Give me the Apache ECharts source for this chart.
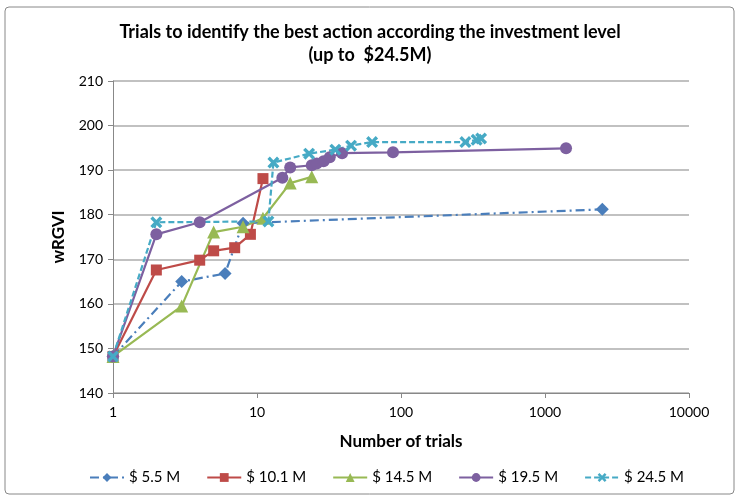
<!DOCTYPE html>
<html>
<head>
<meta charset="utf-8">
<script src="https://cdn.jsdelivr.net/npm/echarts@6/dist/echarts.min.js"></script>
<style>
  html, body { margin: 0; padding: 0; background: #fff; }
  #chart { width: 740px; height: 500px; }
</style>
</head>
<body>
<div id="chart"></div>
<script>
// 数据：每个投资水平的试验次数与 wRGVI
var seriesNames = ['$ 5.5 M', '$ 10.1 M', '$ 14.5 M', '$ 19.5 M', '$ 24.5 M'];

var trials55 = [1, 3, 6, 8, 2500];
var wrgvi55 = [148.2, 165, 166.8, 178.1, 181.2];

var trials101 = [1, 2, 4, 5, 7, 9, 11];
var wrgvi101 = [148.2, 167.6, 169.8, 171.9, 172.6, 175.6, 188.1];

var trials145 = [1, 3, 5, 8, 11, 17, 24];
var wrgvi145 = [148.2, 159.5, 176.1, 177.3, 179.2, 187.1, 188.5];

var trials195 = [1, 2, 4, 15, 17, 24, 26, 29, 32, 39, 88, 1400];
var wrgvi195 = [148.2, 175.6, 178.3, 188.3, 190.6, 191.1, 191.5, 192.0, 192.9, 193.8, 194.0, 194.9];

var trials245 = [1, 2, 12, 13, 23, 35, 45, 63, 280, 335, 360];
var wrgvi245 = [148.2, 178.3, 178.5, 191.7, 193.7, 194.6, 195.5, 196.3, 196.3, 196.8, 197.1];

var xTicks = [1, 10, 100, 1000, 10000];

function pairs(xs, ys) {
    return xs.map(function (x, i) { return [x, ys[i]]; });
}

var colors = ['#4A7EBB', '#BE4B48', '#98B954', '#7D60A0', '#46AAC5'];
var crossPath = 'path://M2,0 L5,3 L8,0 L10,2 L7,5 L10,8 L8,10 L5,7 L2,10 L0,8 L3,5 L0,2 Z';

var seriesConf = [
    { x: trials55, y: wrgvi55, symbol: 'diamond', size: 13, line: [9, 4, 2, 4] },
    { x: trials101, y: wrgvi101, symbol: 'rect', size: 11, line: 'solid' },
    { x: trials145, y: wrgvi145, symbol: 'triangle', size: 13, line: 'solid' },
    { x: trials195, y: wrgvi195, symbol: 'circle', size: 12, line: 'solid' },
    { x: trials245, y: wrgvi245, symbol: crossPath, size: 12, line: [6, 3] }
];

var series = seriesConf.map(function (c, i) {
    return {
        name: seriesNames[i],
        type: 'line',
        data: pairs(c.x, c.y),
        symbol: c.symbol,
        symbolSize: c.size,
        showAllSymbol: true,
        itemStyle: { color: colors[i] },
        lineStyle: { color: colors[i], width: 2.2, type: c.line }
    };
});

var font = 'Lato, "Open Sans", sans-serif';

var chart = echarts.init(document.getElementById('chart'));
var option = {
    animation: false,
    color: colors,
    textStyle: { fontFamily: font },
    title: {
        text: 'Trials to identify the best action according the investment level\n(up to  $24.5M)',
        left: 'center',
        top: 16,
        textStyle: { fontSize: 18, fontWeight: 'bold', color: '#000', lineHeight: 23, fontFamily: font }
    },
    legend: {
        bottom: 10,
        left: 84,
        itemWidth: 34,
        itemHeight: 11,
        itemGap: 26,
        textStyle: { fontSize: 15, color: '#000', fontFamily: font },
        data: seriesNames
    },
    grid: { left: 113, right: 51, top: 81, bottom: 107 },
    xAxis: {
        type: 'log',
        logBase: 10,
        min: 1,
        max: 10000,
        name: 'Number of trials',
        nameLocation: 'middle',
        nameGap: 40,
        nameTextStyle: { fontSize: 17, fontWeight: 'bold', color: '#000', fontFamily: font },
        axisLine: { lineStyle: { color: '#888' } },
        axisTick: { show: true, length: 5, lineStyle: { color: '#888' } },
        splitLine: { show: false },
        axisLabel: {
            color: '#000', fontSize: 14, margin: 12,
            formatter: function (v) { return xTicks.indexOf(v) >= 0 ? String(v) : ''; }
        }
    },
    yAxis: {
        type: 'value',
        min: 140,
        max: 210,
        interval: 10,
        name: 'wRGVI',
        nameLocation: 'middle',
        nameGap: 46,
        nameTextStyle: { fontSize: 17, fontWeight: 'bold', color: '#000', fontFamily: font },
        axisLine: { show: true, lineStyle: { color: '#888' } },
        axisTick: { show: true, length: 5, lineStyle: { color: '#888' } },
        splitLine: { lineStyle: { color: '#ADADAD', width: 1.5 } },
        axisLabel: { color: '#000', fontSize: 14, margin: 10 }
    },
    graphic: [{
        type: 'rect',
        shape: { x: 5, y: 7, width: 729, height: 487, r: 4 },
        style: { fill: 'none', stroke: '#888', lineWidth: 1 },
        silent: true,
        z: -1
    }],
    series: series
};
chart.setOption(option);
</script>
</body>
</html>
